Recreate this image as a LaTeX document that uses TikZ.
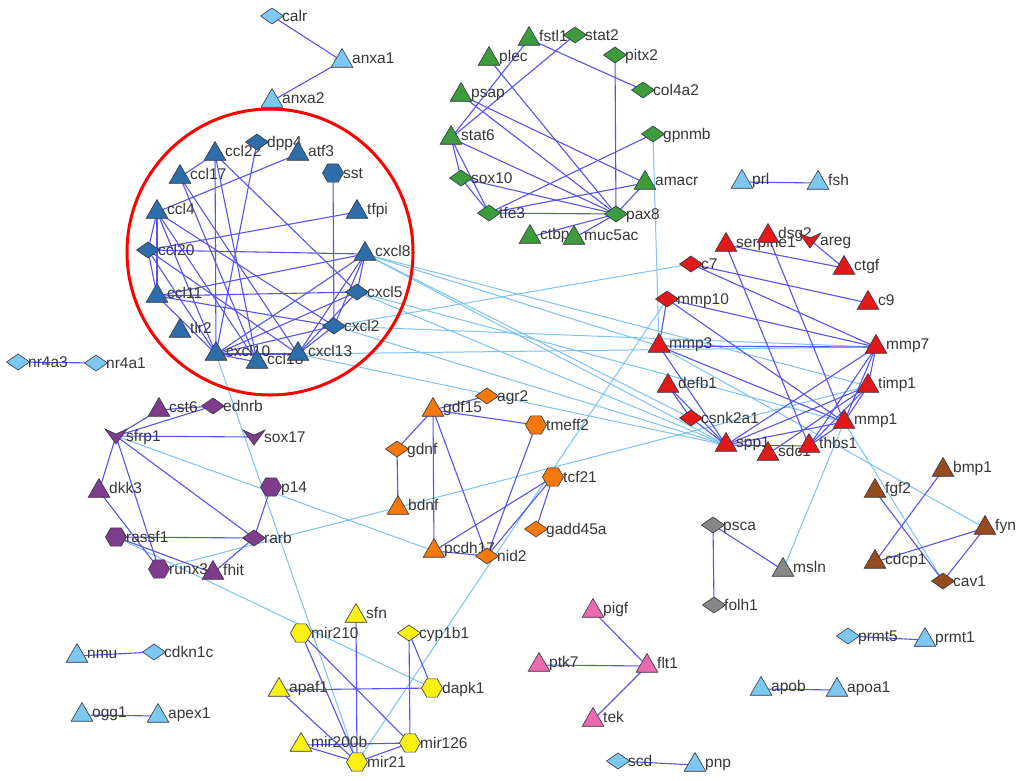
\documentclass[tikz,border=0pt]{standalone}
\usepackage{fontspec}
\setmainfont{Liberation Sans}
\usetikzlibrary{shapes.geometric}
\pgfdeclarelayer{back}
\pgfdeclarelayer{bg}
\pgfsetlayers{back,bg,main}
\definecolor{cLB}{RGB}{125,200,240}
\definecolor{cDB}{RGB}{45,110,170}
\definecolor{cGR}{RGB}{60,155,60}
\definecolor{cRD}{RGB}{225,25,25}
\definecolor{cOR}{RGB}{245,120,10}
\definecolor{cPU}{RGB}{125,60,140}
\definecolor{cYE}{RGB}{250,240,20}
\definecolor{cPK}{RGB}{235,105,175}
\definecolor{cGY}{RGB}{135,135,135}
\definecolor{cBR}{RGB}{150,75,30}
\definecolor{ecol}{RGB}{85,85,235}
\definecolor{lecol}{RGB}{125,195,240}
\definecolor{bdcol}{RGB}{55,55,65}
\definecolor{txcol}{RGB}{55,55,55}
\newcommand\lblfont{\fontsize{15.5}{17}\selectfont}
\tikzset{
  nd/.style={draw=bdcol, line width=0.6pt, inner sep=0pt, outer sep=0pt},
  tri/.style={nd, regular polygon, regular polygon sides=3, minimum size=25pt, yshift=-3pt},
  dia/.style={nd, diamond, minimum width=23pt, minimum height=16pt},
  hex/.style={nd, regular polygon, regular polygon sides=6, minimum size=21pt},
  veept/.style={inner sep=0pt, minimum size=1pt},
  lbl/.style={anchor=base west, text=txcol, font=\lblfont, inner sep=0pt},
  ed/.style={draw=ecol, line width=1.1pt},
  led/.style={draw=lecol, line width=1pt},
}
\newcommand\gn[6]{%
  \node[#2, fill=#3] (#1) at (#4,#5) {};
  \node[lbl] (#1-l) at (#4+10,#5+5.5) {#6};
}
\newcommand\gv[5]{%
  \node[veept] (#1) at (#3,#4) {};
  \filldraw[fill=#2, draw=bdcol, line width=0.6pt] ([shift={(-11,-7)}]#1.center) -- ([shift={(0,-2)}]#1.center) -- ([shift={(11,-7)}]#1.center) -- ([shift={(0,8)}]#1.center) -- cycle;
  \node[lbl] (#1-l) at (#3+10,#4+5.5) {#5};
}
\newcommand\EE[2]{\draw[ed] (#1.center) -- (#2.center);}
\newcommand\LE[2]{\draw[led] (#1.center) -- (#2.center);}
\begin{document}
\begin{tikzpicture}[x=1pt,y=-1pt]
\begin{pgfonlayer}{back}
\fill[white] (0,0) rectangle (1024,780);
\end{pgfonlayer}
\useasboundingbox (0,0) rectangle (1024,780);
\draw[draw=red, line width=3pt] (270,252) circle[radius=143pt];
% light blue small components
\gn{calr}{dia}{cLB}{272}{16}{calr}
\gn{anxa1}{tri}{cLB}{342}{58}{anxa1}
\gn{anxa2}{tri}{cLB}{272}{98}{anxa2}
\gn{nr4a3}{dia}{cLB}{18}{362}{nr4a3}
\gn{nr4a1}{dia}{cLB}{96}{363}{nr4a1}
\gn{prl}{tri}{cLB}{742}{179}{prl}
\gn{fsh}{tri}{cLB}{818}{180}{fsh}
\gn{nmu}{tri}{cLB}{77}{653}{nmu}
\gn{cdkn1c}{dia}{cLB}{154}{652}{cdkn1c}
\gn{ogg1}{tri}{cLB}{82}{712}{ogg1}
\gn{apex1}{tri}{cLB}{158}{713}{apex1}
\gn{prmt5}{dia}{cLB}{848}{636}{prmt5}
\gn{prmt1}{tri}{cLB}{925}{637}{prmt1}
\gn{apob}{tri}{cLB}{761}{686}{apob}
\gn{apoa1}{tri}{cLB}{837}{687}{apoa1}
\gn{scd}{dia}{cLB}{618}{761}{scd}
\gn{pnp}{tri}{cLB}{695}{762}{pnp}
% blue cluster
\gn{ccl22}{tri}{cDB}{215}{151}{ccl22}
\gn{dpp4}{dia}{cDB}{257}{142}{dpp4}
\gn{atf3}{tri}{cDB}{298}{151}{atf3}
\gn{ccl17}{tri}{cDB}{180}{174}{ccl17}
\gn{sst}{hex}{cDB}{333}{173}{sst}
\gn{ccl4}{tri}{cDB}{157}{209}{ccl4}
\gn{tfpi}{tri}{cDB}{357}{209}{tfpi}
\gn{ccl20}{dia}{cDB}{148}{250}{ccl20}
\gn{cxcl8}{tri}{cDB}{365}{251}{cxcl8}
\gn{ccl11}{tri}{cDB}{157}{293}{ccl11}
\gn{cxcl5}{dia}{cDB}{357}{292}{cxcl5}
\gn{tlr2}{tri}{cDB}{180}{328}{tlr2}
\gn{cxcl2}{dia}{cDB}{334}{326}{cxcl2}
\gn{cxcl10}{tri}{cDB}{216}{351}{cxcl10}
\gn{ccl18}{tri}{cDB}{257}{359}{ccl18}
\gn{cxcl13}{tri}{cDB}{298}{351}{cxcl13}
% green cluster
\gn{fstl1}{tri}{cGR}{529}{36}{fstl1}
\gn{stat2}{dia}{cGR}{575}{35}{stat2}
\gn{plec}{tri}{cGR}{489}{56}{plec}
\gn{pitx2}{dia}{cGR}{615}{55}{pitx2}
\gn{psap}{tri}{cGR}{461}{92}{psap}
\gn{col4a2}{dia}{cGR}{643}{90}{col4a2}
\gn{stat6}{tri}{cGR}{451}{135}{stat6}
\gn{gpnmb}{dia}{cGR}{653}{134}{gpnmb}
\gn{sox10}{dia}{cGR}{461}{178}{sox10}
\gn{amacr}{tri}{cGR}{645}{180}{amacr}
\gn{tfe3}{dia}{cGR}{489}{213}{tfe3}
\gn{pax8}{dia}{cGR}{616}{214}{pax8}
\gn{ctbp1}{tri}{cGR}{530}{234}{ctbp1}
\gn{muc5ac}{tri}{cGR}{574}{235}{muc5ac}
% red cluster
\gn{serpine1}{tri}{cRD}{726}{242}{serpine1}
\gn{dsg2}{tri}{cRD}{768}{233}{dsg2}
\gv{areg}{cRD}{810}{240}{areg}
\gn{ctgf}{tri}{cRD}{844}{265}{ctgf}
\gn{c7}{dia}{cRD}{691}{264}{c7}
\gn{c9}{tri}{cRD}{868}{300}{c9}
\gn{mmp10}{dia}{cRD}{667}{299}{mmp10}
\gn{mmp3}{tri}{cRD}{659}{343}{mmp3}
\gn{mmp7}{tri}{cRD}{876}{344}{mmp7}
\gn{defb1}{tri}{cRD}{668}{383}{defb1}
\gn{timp1}{tri}{cRD}{868}{383}{timp1}
\gn{csnk2a1}{dia}{cRD}{691}{418}{csnk2a1}
\gn{mmp1}{tri}{cRD}{844}{419}{mmp1}
\gn{spp1}{tri}{cRD}{726}{442}{spp1}
\gn{sdc1}{tri}{cRD}{768}{451}{sdc1}
\gn{thbs1}{tri}{cRD}{809}{443}{thbs1}
% brown
\gn{bmp1}{tri}{cBR}{943}{467}{bmp1}
\gn{fgf2}{tri}{cBR}{875}{488}{fgf2}
\gn{fyn}{tri}{cBR}{985}{525}{fyn}
\gn{cdcp1}{tri}{cBR}{875}{559}{cdcp1}
\gn{cav1}{dia}{cBR}{943}{581}{cav1}
% gray
\gn{psca}{dia}{cGY}{713}{525}{psca}
\gn{msln}{tri}{cGY}{783}{567}{msln}
\gn{folh1}{dia}{cGY}{714}{605}{folh1}
% pink
\gn{pigf}{tri}{cPK}{593}{608}{pigf}
\gn{ptk7}{tri}{cPK}{539}{662}{ptk7}
\gn{flt1}{tri}{cPK}{647}{663}{flt1}
\gn{tek}{tri}{cPK}{593}{717}{tek}
% purple
\gn{cst6}{tri}{cPU}{159}{407}{cst6}
\gn{ednrb}{dia}{cPU}{213}{406}{ednrb}
\gv{sfrp1}{cPU}{116}{436}{sfrp1}
\gv{sox17}{cPU}{254}{437}{sox17}
\gn{dkk3}{tri}{cPU}{99}{488}{dkk3}
\gn{p14}{hex}{cPU}{271}{487}{p14}
\gn{rassf1}{hex}{cPU}{116}{537}{rassf1}
\gn{rarb}{dia}{cPU}{254}{538}{rarb}
\gn{runx3}{hex}{cPU}{159}{569}{runx3}
\gn{fhit}{tri}{cPU}{213}{570}{fhit}
% orange
\gn{gdf15}{tri}{cOR}{433}{407}{gdf15}
\gn{agr2}{dia}{cOR}{487}{396}{agr2}
\gn{tmeff2}{hex}{cOR}{536}{425}{tmeff2}
\gn{gdnf}{dia}{cOR}{397}{449}{gdnf}
\gn{tcf21}{hex}{cOR}{553}{477}{tcf21}
\gn{bdnf}{tri}{cOR}{398}{505}{bdnf}
\gn{gadd45a}{dia}{cOR}{536}{529}{gadd45a}
\gn{pcdh17}{tri}{cOR}{434}{548}{pcdh17}
\gn{nid2}{dia}{cOR}{487}{556}{nid2}
% yellow
\gn{sfn}{tri}{cYE}{356}{613}{sfn}
\gn{mir210}{hex}{cYE}{301}{633}{mir210}
\gn{cyp1b1}{dia}{cYE}{409}{633}{cyp1b1}
\gn{apaf1}{tri}{cYE}{279}{687}{apaf1}
\gn{dapk1}{hex}{cYE}{432}{688}{dapk1}
\gn{mir200b}{tri}{cYE}{301}{742}{mir200b}
\gn{mir126}{hex}{cYE}{410}{743}{mir126}
\gn{mir21}{hex}{cYE}{357}{762}{mir21}
\begin{pgfonlayer}{bg}
% inter-cluster (light blue)
\LE{cxcl8}{spp1}\LE{cxcl8}{mmp3}\LE{cxcl8}{csnk2a1}\LE{cxcl8}{timp1}
\LE{cxcl5}{spp1}\LE{cxcl5}{mmp1}
\LE{cxcl2}{c7}\LE{cxcl2}{mmp7}\LE{cxcl2}{spp1}
\LE{cxcl13}{mmp7}\LE{cxcl13}{spp1}
\LE{cxcl10}{mir21}\LE{sfrp1}{pcdh17}\LE{runx3}{timp1}\LE{rassf1}{dapk1}
\LE{mir21}{mmp10}\LE{gpnmb}{mmp3}\LE{msln}{mmp1}\LE{mmp1}{cav1}\LE{mmp3}{fyn}
% small components
\EE{calr}{anxa1}\EE{anxa1}{anxa2}\EE{nr4a3}{nr4a1}\EE{prl}{fsh}\EE{nmu}{cdkn1c}
\EE{ogg1}{apex1}\EE{prmt5}{prmt1}\EE{apob}{apoa1}\EE{scd}{pnp}
% blue cluster
\EE{ccl22}{ccl17}\EE{ccl22}{cxcl10}\EE{ccl22}{ccl18}\EE{ccl22}{cxcl5}
\EE{dpp4}{cxcl10}\EE{atf3}{ccl4}\EE{ccl17}{ccl18}\EE{ccl17}{cxcl13}
\EE{ccl4}{ccl20}\EE{ccl4}{ccl11}\EE{ccl4}{cxcl10}\EE{ccl4}{ccl18}\EE{ccl4}{cxcl2}
\EE{ccl20}{ccl11}\EE{ccl20}{cxcl8}\EE{ccl20}{cxcl10}\EE{ccl20}{cxcl13}\EE{tfpi}{ccl20}
\EE{ccl11}{cxcl8}\EE{ccl11}{cxcl5}\EE{ccl11}{cxcl10}\EE{ccl11}{cxcl2}
\EE{sst}{cxcl2}
\EE{cxcl10}{cxcl8}\EE{cxcl10}{cxcl5}\EE{cxcl10}{cxcl2}\EE{cxcl10}{ccl18}\EE{cxcl10}{cxcl13}
\EE{cxcl13}{cxcl8}\EE{cxcl13}{cxcl5}\EE{cxcl13}{cxcl2}\EE{cxcl8}{cxcl5}\EE{cxcl8}{cxcl2}
% green
\EE{fstl1}{col4a2}\EE{fstl1}{stat6}\EE{stat2}{stat6}\EE{plec}{pax8}\EE{pitx2}{pax8}
\EE{psap}{pax8}\EE{psap}{amacr}\EE{stat6}{pax8}\EE{stat6}{sox10}\EE{stat6}{tfe3}
\EE{sox10}{tfe3}\EE{sox10}{pax8}\EE{tfe3}{pax8}\EE{tfe3}{gpnmb}\EE{tfe3}{amacr}
\EE{amacr}{pax8}\EE{ctbp1}{pax8}\EE{muc5ac}{pax8}
% red
\EE{serpine1}{ctgf}\EE{areg}{ctgf}\EE{serpine1}{thbs1}\EE{dsg2}{mmp1}
\EE{c7}{c9}\EE{c7}{mmp7}\EE{mmp10}{mmp7}\EE{mmp10}{mmp1}\EE{mmp10}{mmp3}
\EE{mmp3}{mmp7}\EE{mmp3}{mmp1}\EE{mmp3}{spp1}\EE{defb1}{spp1}\EE{defb1}{csnk2a1}
\EE{csnk2a1}{spp1}\EE{spp1}{mmp7}\EE{spp1}{timp1}\EE{spp1}{mmp1}\EE{spp1}{thbs1}
\EE{sdc1}{timp1}\EE{thbs1}{mmp7}\EE{thbs1}{timp1}\EE{thbs1}{mmp1}
\EE{mmp7}{timp1}\EE{mmp7}{mmp1}\EE{timp1}{mmp1}
% brown, gray, pink
\EE{bmp1}{cdcp1}\EE{fgf2}{cav1}\EE{cdcp1}{fyn}\EE{fyn}{cav1}
\EE{psca}{msln}\EE{psca}{folh1}
\EE{pigf}{flt1}\EE{ptk7}{flt1}\EE{tek}{flt1}
% purple
\EE{sfrp1}{cst6}\EE{sfrp1}{ednrb}\EE{cst6}{ednrb}\EE{sfrp1}{sox17}\EE{sfrp1}{dkk3}
\EE{sfrp1}{rarb}\EE{sfrp1}{runx3}\EE{dkk3}{runx3}\EE{rassf1}{rarb}\EE{rassf1}{fhit}
\EE{p14}{rarb}\EE{rarb}{fhit}
% orange
\EE{gdf15}{agr2}\EE{gdf15}{tmeff2}\EE{gdf15}{gdnf}\EE{gdf15}{pcdh17}\EE{gdf15}{nid2}
\EE{gdnf}{bdnf}\EE{tmeff2}{nid2}\EE{tcf21}{pcdh17}\EE{tcf21}{nid2}\EE{tcf21}{gadd45a}
\EE{pcdh17}{nid2}
% yellow
\EE{sfn}{mir21}\EE{mir210}{mir21}\EE{mir210}{mir126}\EE{apaf1}{dapk1}\EE{apaf1}{mir21}
\EE{cyp1b1}{dapk1}\EE{cyp1b1}{mir126}\EE{mir200b}{mir126}\EE{mir200b}{mir21}\EE{mir126}{mir21}
\end{pgfonlayer}
\end{tikzpicture}
\end{document}
